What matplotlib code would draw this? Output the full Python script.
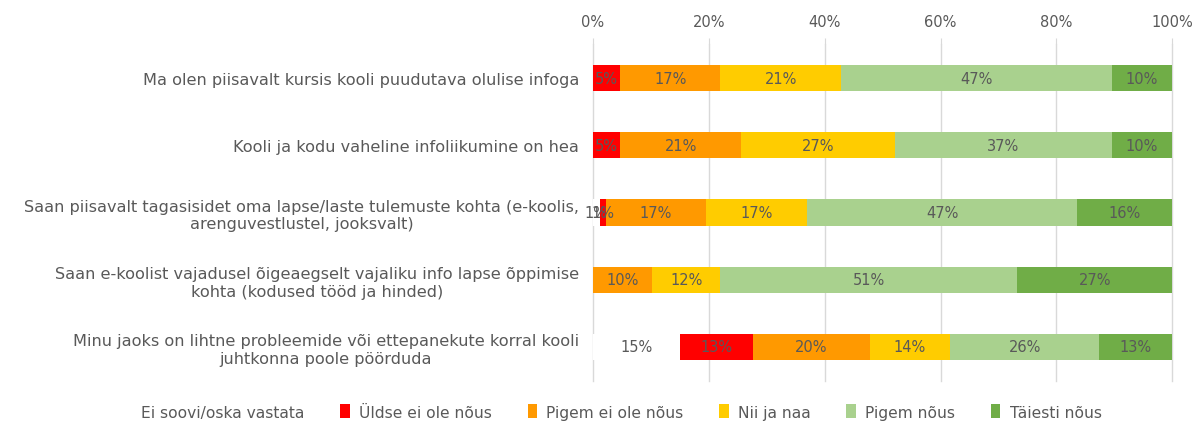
import numpy as np
import matplotlib.pyplot as plt

questions = [
    "Ma olen piisavalt kursis kooli puudutava olulise infoga",
    "Kooli ja kodu vaheline infoliikumine on hea",
    "Saan piisavalt tagasisidet oma lapse/laste tulemuste kohta (e-koolis,\narenguvestlustel, jooksvalt)",
    "Saan e-koolist vajadusel õigeaegselt vajaliku info lapse õppimise\nkohta (kodused tööd ja hinded)",
    "Minu jaoks on lihtne probleemide või ettepanekute korral kooli\njuhtkonna poole pöörduda",
]
answers = ["Ei soovi/oska vastata", "Üldse ei ole nõus", "Pigem ei ole nõus",
           "Nii ja naa", "Pigem nõus", "Täiesti nõus"]

ei_oska = [0.0, 0.0, 1.2, 0.0, 15.1]
uldse_ei = [4.7, 4.7, 1.0, 0.0, 12.6]
pigem_ei = [17.3, 20.9, 17.3, 10.3, 20.1]
nii_naa = [20.9, 26.6, 17.4, 11.7, 13.8]
pigem_jah = [46.6, 37.3, 46.7, 51.2, 25.8]
taiesti = [10.5, 10.5, 16.4, 26.8, 12.6]

series = [ei_oska, uldse_ei, pigem_ei, nii_naa, pigem_jah, taiesti]
colors = ["#FFFFFF", "#FF0000", "#FF9900", "#FFCC00", "#A9D18E", "#70AD47"]
ticks = [0, 20, 40, 60, 80, 100]
grey = "#595959"

fig = plt.figure(figsize=(12, 4.27), dpi=100)
ax = fig.add_axes([0.494, 0.1063, 0.483, 0.7874])

y = np.arange(len(questions))
left = np.zeros(len(questions))
for vals, col, name in zip(series, colors, answers):
    vals = np.array(vals)
    ax.barh(y, vals, left=left, height=0.39, color=col, label=name,
            edgecolor="none", zorder=3)
    for yi, (l, v) in enumerate(zip(left, vals)):
        if v > 0:
            ax.text(l + v / 2, yi, f"{round(v)}%", ha="center", va="center",
                    fontsize=10.5, color=grey, zorder=4)
    left += vals

ax.set_xlim(0, 100)
ax.set_ylim(len(questions) - 0.5, -0.5)
ax.set_xticks(ticks)
ax.set_xticklabels([f"{t}%" for t in ticks])
ax.xaxis.tick_top()
ax.tick_params(axis="x", colors="#D9D9D9", labelcolor=grey, labelsize=10.5,
               length=4, pad=7)
ax.set_yticks(y)
ax.set_yticklabels(questions, multialignment="center")
ax.tick_params(axis="y", length=0, labelcolor=grey, labelsize=11.6, pad=10)
ax.grid(axis="x", color="#D9D9D9", linewidth=1, zorder=0, clip_on=False)
for s in ax.spines.values():
    s.set_visible(False)

fig.legend(loc="center", bbox_to_anchor=(0.51, 0.033), ncol=6, frameon=False,
           fontsize=11.2, labelcolor=grey, handlelength=0.6, handleheight=1.0,
           handletextpad=0.6, columnspacing=2.3)

fig.savefig("out.png", dpi=100)
